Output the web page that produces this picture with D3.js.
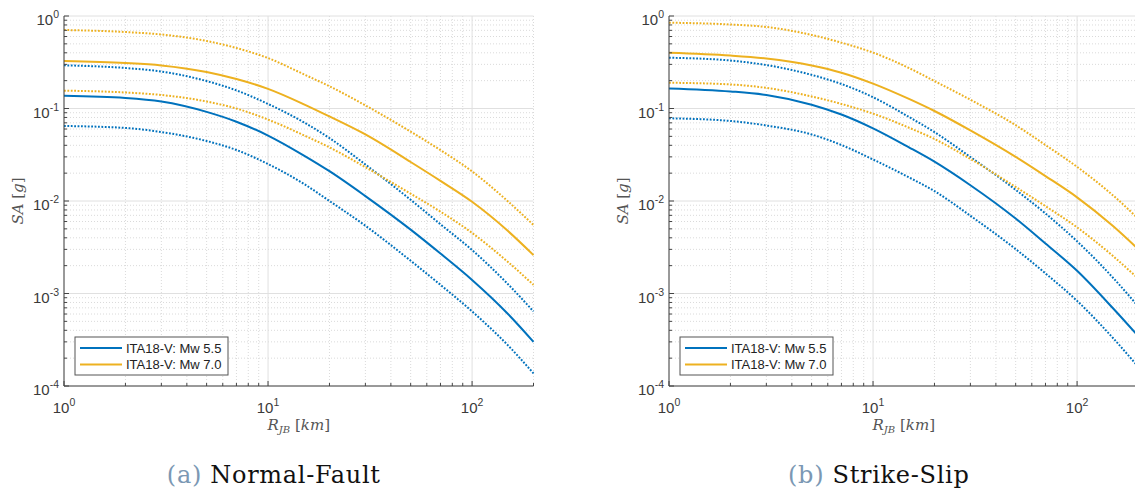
<!DOCTYPE html>
<html>
<head>
<meta charset="utf-8">
<script src="https://cdn.jsdelivr.net/npm/d3@7"></script>
<style>
  body { margin: 0; background: #fff; }
  svg { display: block; }
</style>
</head>
<body>
<svg id="chart" width="1135" height="491"></svg>
<script>

// distances R_JB [km] where the curves were read
const distances = [1, 2, 3, 5, 7, 10, 15, 20, 30, 50, 70, 100, 150, 200];

// (a) Normal-Fault, SA [g]
const blueMedNF   = [0.137, 0.130, 0.119, 0.092, 0.072, 0.051, 0.031, 0.021, 0.0113, 0.0049, 0.0027, 0.0014, 0.0006, 0.0003];
const blueHiNF    = [0.293, 0.274, 0.251, 0.198, 0.157, 0.112, 0.0708, 0.0479, 0.0248, 0.0103, 0.0056, 0.00295, 0.00126, 0.00064];
const blueLoNF    = [0.0647, 0.0616, 0.0557, 0.0445, 0.0356, 0.0251, 0.0153, 0.0100, 0.0054, 0.00226, 0.00124, 0.00064, 0.000275, 0.000137];
const orangeMedNF = [0.326, 0.310, 0.292, 0.248, 0.208, 0.163, 0.111, 0.082, 0.0524, 0.0264, 0.0165, 0.0098, 0.00473, 0.0026];
const orangeHiNF  = [0.706, 0.671, 0.631, 0.537, 0.451, 0.351, 0.234, 0.174, 0.108, 0.0562, 0.0355, 0.0209, 0.0099, 0.0055];
const orangeLoNF  = [0.156, 0.149, 0.140, 0.119, 0.100, 0.0759, 0.0513, 0.038, 0.0232, 0.0120, 0.00767, 0.00452, 0.00219, 0.00124];

// (b) Strike-Slip, SA [g]
const blueMedSS   = [0.165, 0.153, 0.140, 0.110, 0.0861, 0.061, 0.038, 0.0266, 0.0148, 0.00646, 0.00347, 0.00176, 0.000692, 0.000343];
const blueHiSS    = [0.354, 0.330, 0.295, 0.231, 0.184, 0.1325, 0.081, 0.0556, 0.0299, 0.0132, 0.00733, 0.00367, 0.00148, 0.00072];
const blueLoSS    = [0.0784, 0.0733, 0.0655, 0.0524, 0.0403, 0.0281, 0.018, 0.0128, 0.00692, 0.00302, 0.00165, 0.000832, 0.00033, 0.00016];
const orangeMedSS = [0.401, 0.374, 0.347, 0.292, 0.244, 0.186, 0.127, 0.094, 0.058, 0.030, 0.0186, 0.01096, 0.00537, 0.0030];
const orangeHiSS  = [0.847, 0.809, 0.761, 0.624, 0.515, 0.402, 0.274, 0.198, 0.1245, 0.066, 0.0403, 0.0234, 0.0115, 0.0064];
const orangeLoSS  = [0.190, 0.182, 0.167, 0.135, 0.112, 0.088, 0.062, 0.0468, 0.0285, 0.0142, 0.0088, 0.00519, 0.00254, 0.00144];

const legendLabels = ["ITA18-V: Mw 5.5", "ITA18-V: Mw 7.0"];
const xTickValues = [1, 10, 100];
const xTickExp = ["0", "1", "2"];
const yTickValues = [1, 0.1, 0.01, 0.001, 0.0001];
const yTickExp = ["0", "-1", "-2", "-3", "-4"];
const captionTags = ["(a)", "(b)"];
const captionTexts = ["Normal-Fault", "Strike-Slip"];

const BLUE = "#0072BD";
const ORANGE = "#EDB120";
const TEXT = "#3a3a3a";

const svg = d3.select("#chart");

const panels = [
  { left: 64, tag: captionTags[0], caption: captionTexts[0],
    series: [
      { v: blueMedNF, c: BLUE, dot: false }, { v: blueHiNF, c: BLUE, dot: true }, { v: blueLoNF, c: BLUE, dot: true },
      { v: orangeMedNF, c: ORANGE, dot: false }, { v: orangeHiNF, c: ORANGE, dot: true }, { v: orangeLoNF, c: ORANGE, dot: true }
    ] },
  { left: 669, tag: captionTags[1], caption: captionTexts[1],
    series: [
      { v: blueMedSS, c: BLUE, dot: false }, { v: blueHiSS, c: BLUE, dot: true }, { v: blueLoSS, c: BLUE, dot: true },
      { v: orangeMedSS, c: ORANGE, dot: false }, { v: orangeHiSS, c: ORANGE, dot: true }, { v: orangeLoSS, c: ORANGE, dot: true }
    ] }
];

panels.forEach(drawPanel);

function drawPanel(p) {
  const top = 16, bottom = 386;
  const x = d3.scaleLog().domain([1, 200]).range([p.left, p.left + 469.5]);
  const y = d3.scaleLog().domain([1e-4, 1]).range([bottom, top]);
  const right = x(200);
  const g = svg.append("g");

  const isMajor = v => Math.abs(Math.log10(v) - Math.round(Math.log10(v))) < 1e-9;
  const xMinor = x.ticks().filter(v => !isMajor(v));
  const yMinor = y.ticks().filter(v => !isMajor(v));

  // minor grid, dotted
  g.selectAll(".gx").data(xMinor).join("line")
    .attr("x1", d => x(d)).attr("x2", d => x(d)).attr("y1", top).attr("y2", bottom)
    .attr("stroke", "#dadada").attr("stroke-dasharray", "1,2");
  g.selectAll(".gy").data(yMinor).join("line")
    .attr("x1", p.left).attr("x2", right).attr("y1", d => y(d)).attr("y2", d => y(d))
    .attr("stroke", "#dadada").attr("stroke-dasharray", "1,2");

  // major grid
  g.selectAll(".Gx").data(xTickValues).join("line")
    .attr("x1", d => x(d)).attr("x2", d => x(d)).attr("y1", top).attr("y2", bottom)
    .attr("stroke", "#e0e0e0");
  g.selectAll(".Gy").data(yTickValues).join("line")
    .attr("x1", p.left).attr("x2", right).attr("y1", d => y(d)).attr("y2", d => y(d))
    .attr("stroke", "#e0e0e0");

  // curves
  const line = d3.line()
    .x((d, i) => x(distances[i]))
    .y(d => y(d))
    .curve(d3.curveMonotoneX);
  p.series.forEach(s => {
    g.append("path")
      .datum(s.v)
      .attr("fill", "none")
      .attr("stroke", s.c)
      .attr("stroke-width", 2)
      .attr("stroke-dasharray", s.dot ? "1.8,1.6" : null)
      .attr("d", line);
  });

  // axes lines and inward ticks
  g.append("line").attr("x1", p.left).attr("x2", p.left).attr("y1", top).attr("y2", bottom)
    .attr("stroke", "#444").attr("stroke-width", 1);
  g.append("line").attr("x1", p.left).attr("x2", right).attr("y1", bottom).attr("y2", bottom)
    .attr("stroke", "#444").attr("stroke-width", 1);
  g.selectAll(".tx").data(x.ticks()).join("line")
    .attr("x1", d => x(d)).attr("x2", d => x(d))
    .attr("y1", bottom).attr("y2", d => bottom - (isMajor(d) ? 5 : 3))
    .attr("stroke", "#444");
  g.selectAll(".ty").data(y.ticks()).join("line")
    .attr("x1", p.left).attr("x2", d => p.left + (isMajor(d) ? 5 : 3))
    .attr("y1", d => y(d)).attr("y2", d => y(d))
    .attr("stroke", "#444");

  // tick labels
  const font = "'Liberation Sans', Arial, sans-serif";
  yTickValues.forEach((v, i) => {
    const t = g.append("text").attr("x", p.left - 5).attr("y", y(v) + 9)
      .attr("text-anchor", "end").attr("font-family", font).attr("font-size", 15).attr("fill", TEXT);
    t.append("tspan").text("10");
    t.append("tspan").attr("dy", -7).attr("font-size", 10.5).text(yTickExp[i]);
  });
  xTickValues.forEach((v, i) => {
    const t = g.append("text").attr("x", x(v)).attr("y", 413)
      .attr("text-anchor", "middle").attr("font-family", font).attr("font-size", 15).attr("fill", TEXT);
    t.append("tspan").text("10");
    t.append("tspan").attr("dy", -7).attr("font-size", 10.5).text(xTickExp[i]);
  });

  // axis labels
  const serif = "'DejaVu Serif', 'Liberation Serif', serif";
  const xl = g.append("text").attr("x", (p.left + right) / 2).attr("y", 430)
    .attr("text-anchor", "middle").attr("font-family", serif).attr("font-size", 15).attr("fill", "#555");
  xl.append("tspan").attr("font-style", "italic").text("R");
  xl.append("tspan").attr("font-style", "italic").attr("font-size", 10).attr("dy", 3).text("JB");
  xl.append("tspan").attr("dy", -3).text(" [");
  xl.append("tspan").attr("font-style", "italic").text("km");
  xl.append("tspan").text("]");

  const yl = g.append("text").attr("transform", `translate(${p.left - 41},${(top + bottom) / 2}) rotate(-90)`)
    .attr("text-anchor", "middle").attr("font-family", serif).attr("font-size", 15).attr("fill", "#555");
  yl.append("tspan").attr("font-style", "italic").text("SA");
  yl.append("tspan").text(" [");
  yl.append("tspan").attr("font-style", "italic").text("g");
  yl.append("tspan").text("]");

  // legend
  const lx = p.left + 11, ly = 337;
  g.append("rect").attr("x", lx).attr("y", ly).attr("width", 153).attr("height", 38)
    .attr("fill", "#fff").attr("stroke", "#555").attr("stroke-width", 1);
  [BLUE, ORANGE].forEach((c, i) => {
    const yy = ly + 11 + i * 16.5;
    g.append("line").attr("x1", lx + 5).attr("x2", lx + 47).attr("y1", yy).attr("y2", yy)
      .attr("stroke", c).attr("stroke-width", 2);
    g.append("text").attr("x", lx + 51).attr("y", yy + 4.5)
      .attr("font-family", font).attr("font-size", 13).attr("fill", "#222").text(legendLabels[i]);
  });

  // caption
  const cap = g.append("text").attr("x", (p.left + right) / 2 - 25).attr("y", 483)
    .attr("text-anchor", "middle").attr("font-family", serif).attr("font-size", 24)
    .attr("letter-spacing", 0.7);
  cap.append("tspan").attr("fill", "#7b98b4").text(p.tag + " ");
  cap.append("tspan").attr("fill", "#111").text(p.caption);
}
</script>
</body>
</html>
